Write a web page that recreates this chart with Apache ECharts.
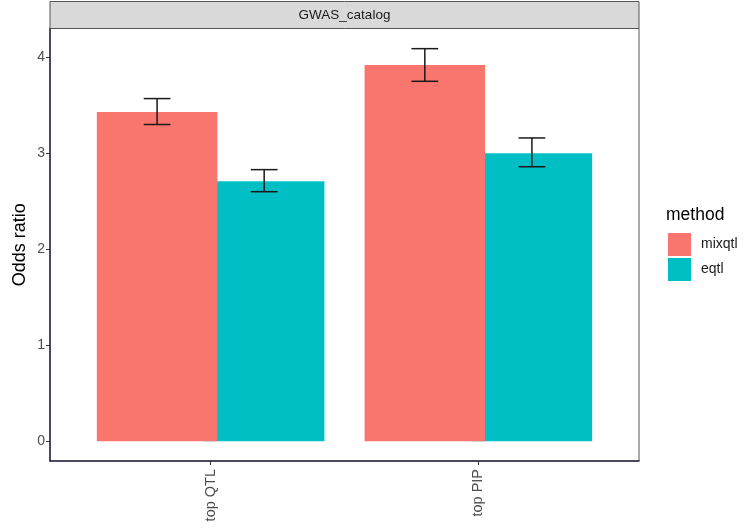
<!DOCTYPE html>
<html><head><meta charset="utf-8">
<script src="https://cdn.jsdelivr.net/npm/echarts@6/dist/echarts.min.js"></script>
<style>html,body{margin:0;padding:0;background:#fff}#chart{width:750px;height:531px}</style>
</head><body><div id="chart"></div>
<script>
// Enrichment of GWAS catalog hits: odds ratio per selection method
const categories = ['top QTL', 'top PIP'];
const methods = ['mixqtl', 'eqtl'];
const mixqtlOR = [3.43, 3.92];
const eqtlOR = [2.71, 3.00];
const mixqtlLow = [3.30, 3.75];
const mixqtlHigh = [3.57, 4.09];
const eqtlLow = [2.60, 2.86];
const eqtlHigh = [2.83, 3.16];
const yTicks = [0, 1, 2, 3, 4];
const stripLabel = 'GWAS_catalog';
const yTitle = 'Odds ratio';

const colors = { mixqtl: '#F8766D', eqtl: '#00BFC4' };
const FONT = '"Liberation Sans", Arial, sans-serif';
const AXIS_DARK = '#2b2a4a';

// panel extents; the discrete axis is padded by 0.6 of a category on each side
const yMin = -0.205, yMax = 4.30;
const panel = { left: 50, top: 28.5, width: 589, height: 432.5 };
const unit = panel.width / 2.2;
const inner = { left: panel.left + 0.1 * unit, top: panel.top, width: 2 * unit, height: panel.height };

function errorSeries(name, low, high, side) {
  return {
    type: 'custom', name: name, xAxisIndex: 1, yAxisIndex: 1, z: 5, silent: true,
    data: low.map((l, i) => [i, l, high[i]]),
    renderItem(params, api) {
      const band = api.size([1, 0])[0];
      const base = api.coord([api.value(0), api.value(1)]);
      const top = api.coord([api.value(0), api.value(2)]);
      const cx = base[0] + side * 0.2 * band;
      const hw = 0.05 * band;
      const style = { stroke: '#1a1a1a', lineWidth: 1.5 };
      return {
        type: 'group', children: [
          { type: 'line', shape: { x1: cx, y1: base[1], x2: cx, y2: top[1] }, style },
          { type: 'line', shape: { x1: cx - hw, y1: base[1], x2: cx + hw, y2: base[1] }, style },
          { type: 'line', shape: { x1: cx - hw, y1: top[1], x2: cx + hw, y2: top[1] }, style }
        ]
      };
    }
  };
}

const chart = echarts.init(document.getElementById('chart'), null, { renderer: 'canvas' });
chart.setOption({
  animation: false,
  backgroundColor: '#ffffff',
  textStyle: { fontFamily: FONT },
  grid: [
    { left: panel.left, top: panel.top, width: panel.width, height: panel.height,
      containLabel: false, outerBoundsMode: 'none',
      show: true, borderColor: '#555555', borderWidth: 1, backgroundColor: '#ffffff' },
    { left: inner.left, top: inner.top, width: inner.width, height: inner.height,
      containLabel: false, outerBoundsMode: 'none' }
  ],
  xAxis: [
    { gridIndex: 0, type: 'value', min: 0, max: 1,
      axisLine: { show: true, onZero: false, lineStyle: { color: AXIS_DARK, width: 1.5 } },
      axisTick: { show: false }, axisLabel: { show: false }, splitLine: { show: false } },
    { gridIndex: 1, type: 'category', data: categories,
      axisLine: { show: false, onZero: false },
      axisTick: { show: true, alignWithLabel: true, length: 4, lineStyle: { color: '#333333' } },
      axisLabel: { rotate: 90, margin: 8, fontSize: 14.5, color: '#4d4d4d', fontFamily: FONT },
      splitLine: { show: false } }
  ],
  yAxis: [
    { gridIndex: 0, type: 'value', min: yMin, max: yMax,
      axisLine: { show: true, onZero: false, lineStyle: { color: AXIS_DARK, width: 1.5 } },
      axisTick: { show: true, length: 4, customValues: yTicks, lineStyle: { color: '#333333' } },
      axisLabel: { show: true, margin: 5, fontSize: 14, color: '#4d4d4d', customValues: yTicks, fontFamily: FONT },
      splitLine: { show: false } },
    { gridIndex: 1, type: 'value', min: yMin, max: yMax, show: false, splitLine: { show: false } }
  ],
  legend: {
    orient: 'vertical', left: 668, top: 233, padding: 0,
    data: methods, icon: 'rect', itemWidth: 23, itemHeight: 23, itemGap: 2,
    textStyle: { fontSize: 14, color: '#1a1a1a', fontFamily: FONT, padding: [0, 0, 0, 5] }
  },
  graphic: [
    { type: 'rect', z: 10, shape: { x: panel.left, y: 1.5, width: panel.width, height: panel.top - 1.5 },
      style: { fill: '#D9D9D9', stroke: '#555555', lineWidth: 1 } },
    { type: 'text', z: 11, x: panel.left + panel.width / 2, y: 15,
      style: { text: stripLabel, fontSize: 13.5, fill: '#1a1a1a', fontFamily: FONT, align: 'center', verticalAlign: 'middle' } },
    { type: 'text', z: 11, x: 20, y: panel.top + panel.height / 2, rotation: Math.PI / 2,
      style: { text: yTitle, fontSize: 18, fill: '#000000', fontFamily: FONT, align: 'center', verticalAlign: 'middle' } },
    { type: 'text', z: 11, x: 666, y: 215,
      style: { text: 'method', fontSize: 17.5, fill: '#000000', fontFamily: FONT, align: 'left', verticalAlign: 'middle' } }
  ],
  series: [
    { name: 'mixqtl', type: 'bar', xAxisIndex: 1, yAxisIndex: 1, z: 3, data: mixqtlOR,
      barWidth: '45%', barGap: '-11.1%', itemStyle: { color: colors.mixqtl } },
    { name: 'eqtl', type: 'bar', xAxisIndex: 1, yAxisIndex: 1, z: 2, data: eqtlOR,
      barWidth: '45%', barGap: '-11.1%', itemStyle: { color: colors.eqtl } },
    errorSeries('mixqtl interval', mixqtlLow, mixqtlHigh, -1),
    errorSeries('eqtl interval', eqtlLow, eqtlHigh, 1)
  ]
});
</script>
</body></html>
